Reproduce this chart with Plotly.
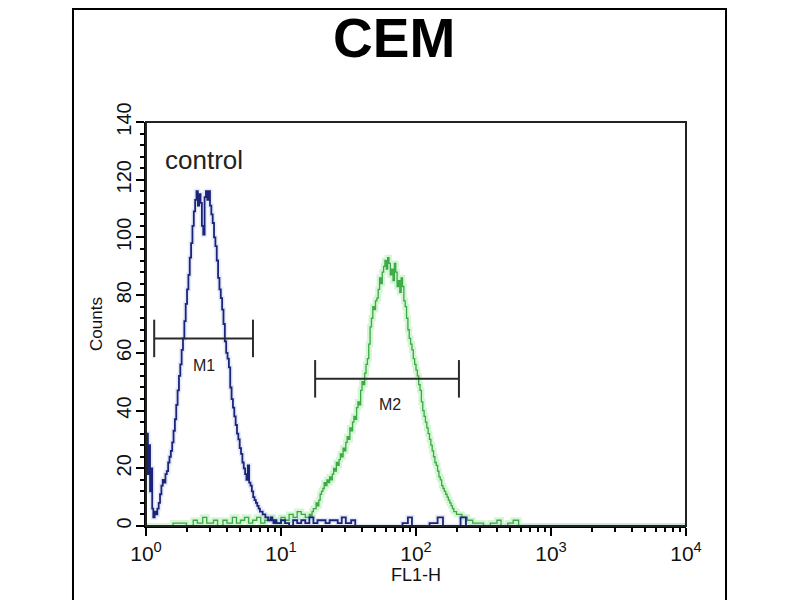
import numpy as np
import plotly.graph_objects as go

# ============================================================
# DATA
# ============================================================
title = "CEM"

# control histogram (blue), positions in log10(FL1-H)
blue_log_x = [
    0.0, 0.007, 0.014, 0.022, 0.03, 0.038, 0.046, 0.054, 0.064, 0.074,
    0.084, 0.094, 0.104, 0.114, 0.124, 0.134, 0.144, 0.154, 0.164, 0.174,
    0.184, 0.194, 0.204, 0.214, 0.224, 0.234, 0.244, 0.254, 0.264, 0.274,
    0.284, 0.294, 0.304, 0.314, 0.324, 0.334, 0.344, 0.354, 0.364, 0.374,
    0.384, 0.394, 0.404, 0.414, 0.424, 0.434, 0.444, 0.454, 0.464, 0.474,
    0.484, 0.494, 0.504, 0.514, 0.524, 0.534, 0.544, 0.554, 0.564, 0.574,
    0.584, 0.594, 0.604, 0.614, 0.624, 0.634, 0.644, 0.654, 0.664, 0.674,
    0.684, 0.694, 0.704, 0.714, 0.724, 0.734, 0.744, 0.754, 0.764, 0.774,
    0.784, 0.794, 0.804, 0.814, 0.824, 0.834, 0.844, 0.854, 0.864, 0.874,
    0.884, 0.894, 0.904, 0.914, 0.924, 0.934, 0.944, 0.954, 0.964, 0.974,
    1.0, 1.03, 1.06, 1.09, 1.12, 1.15, 1.18, 1.21, 1.24, 1.27,
    1.30, 1.33, 1.36, 1.39, 1.42, 1.45, 1.48, 1.52, 1.55, 1.6,
    1.7, 1.8, 1.9, 1.94, 1.97, 2.05, 2.1, 2.16, 2.2, 2.3,
    2.33, 2.37, 2.5, 3.0, 4.0,
]
blue_counts = [
    24, 32, 18, 28, 12, 20, 6, 3, 5, 4,
    6, 8, 11, 14, 16, 15, 18, 19, 22, 24,
    26, 29, 33, 37, 42, 47, 52, 56, 61, 65,
    71, 77, 82, 87, 93, 98, 104, 109, 113, 116,
    111, 115, 112, 104, 101, 114, 116, 113, 116, 111,
    108, 105, 100, 97, 92, 86, 82, 79, 75, 70,
    64, 60, 58, 55, 48, 44, 41, 38, 35, 32,
    30, 27, 25, 22, 20, 18, 16, 21, 15, 14,
    12, 10, 9, 8, 7, 6, 5, 5, 4, 4,
    3, 3, 2, 2, 3, 2, 1, 2, 1, 1,
    2, 1, 0, 2, 1, 2, 1, 3, 1, 2,
    2, 1, 2, 2, 1, 3, 1, 2, 0, 0,
    0, 0, 1, 3, 0, 0, 1, 3, 0, 0,
    3, 0, 0, 0, 0,
]

# stained histogram (green)
green_log_x = [
    0.0, 0.1, 0.2, 0.3, 0.35, 0.38, 0.42, 0.45, 0.5, 0.53,
    0.57, 0.6, 0.64, 0.67, 0.7, 0.73, 0.76, 0.79, 0.82, 0.85,
    0.88, 0.91, 0.94, 0.97, 1.0, 1.03, 1.06, 1.09, 1.12, 1.15,
    1.18, 1.20, 1.21, 1.22, 1.23, 1.24, 1.25, 1.26, 1.27, 1.28,
    1.29, 1.30, 1.31, 1.32, 1.33, 1.34, 1.35, 1.36, 1.37, 1.38,
    1.39, 1.40, 1.41, 1.42, 1.43, 1.44, 1.45, 1.46, 1.47, 1.48,
    1.49, 1.50, 1.51, 1.52, 1.53, 1.54, 1.55, 1.56, 1.57, 1.58,
    1.59, 1.60, 1.61, 1.62, 1.63, 1.64, 1.65, 1.66, 1.67, 1.68,
    1.69, 1.70, 1.71, 1.72, 1.73, 1.74, 1.75, 1.76, 1.77, 1.78,
    1.79, 1.80, 1.81, 1.82, 1.83, 1.84, 1.85, 1.86, 1.87, 1.88,
    1.89, 1.90, 1.91, 1.92, 1.93, 1.94, 1.95, 1.96, 1.97, 1.98,
    1.99, 2.00, 2.01, 2.02, 2.03, 2.04, 2.05, 2.06, 2.07, 2.08,
    2.09, 2.10, 2.11, 2.12, 2.13, 2.14, 2.15, 2.16, 2.17, 2.18,
    2.19, 2.20, 2.21, 2.22, 2.23, 2.24, 2.25, 2.26, 2.27, 2.28,
    2.29, 2.30, 2.32, 2.34, 2.36, 2.38, 2.40, 2.42, 2.45, 2.5,
    2.55, 2.6, 2.63, 2.68, 2.72, 2.76, 2.8, 3.0, 4.0,
]
green_counts = [
    0, 0, 1, 0, 2, 1, 3, 1, 2, 0,
    2, 1, 3, 1, 2, 3, 1, 2, 3, 1,
    2, 3, 2, 1, 3, 2, 4, 3, 5, 4,
    3, 3, 4, 3, 5, 6, 6, 8, 7, 9,
    11, 12, 13, 15, 14, 16, 15, 17, 16, 18,
    20, 19, 22, 21, 23, 25, 24, 27, 26, 29,
    31, 30, 34, 33, 36, 38, 37, 41, 43, 42,
    47, 50, 49, 53, 56, 58, 63, 69, 72, 76,
    75, 78, 79, 82, 86, 84, 88, 90, 92, 89,
    93, 91, 87, 89, 85, 91, 88, 83, 85, 81,
    86, 83, 78, 76, 72, 68, 65, 63, 61, 58,
    56, 54, 52, 49, 47, 43, 40, 38, 36, 34,
    32, 30, 28, 26, 24, 22, 21, 19, 17, 16,
    14, 13, 12, 11, 10, 9, 8, 7, 6, 5,
    5, 4, 4, 3, 3, 2, 2, 1, 1, 0,
    1, 2, 0, 1, 2, 0, 0, 0, 0,
]

# marker gates: name, left, right (FL1-H), bar height, label position
gate_names = ["M1", "M2"]
gate_left = [1.15, 17.9]
gate_right = [6.2, 208]
gate_level = [65, 51]
gate_label_y = [55.5, 42]
gate_label_x = [2.7, 64]

x_tickvals = [1, 10, 100, 1000, 10000]
x_ticktext = ["10<sup>0</sup>", "10<sup>1</sup>", "10<sup>2</sup>",
              "10<sup>3</sup>", "10<sup>4</sup>"]
x_minor = [m * d for d in x_tickvals[:-1] for m in range(2, 10)]

FONT = "Arial, Liberation Sans, sans-serif"

# ============================================================
# PLOT
# ============================================================
fig = go.Figure()

blue_x = 10 ** np.array(blue_log_x)
green_x = 10 ** np.array(green_log_x)

# soft halos under the lines (jpeg-like glow)
fig.add_trace(go.Scatter(x=green_x, y=green_counts, mode="lines", line_shape="hv",
                         line=dict(color="rgba(160,235,160,0.45)", width=6),
                         hoverinfo="skip", showlegend=False))
fig.add_trace(go.Scatter(x=blue_x, y=blue_counts, mode="lines", line_shape="hv",
                         line=dict(color="rgba(170,185,240,0.3)", width=5),
                         hoverinfo="skip", showlegend=False))
fig.add_trace(go.Scatter(x=green_x, y=green_counts, mode="lines", line_shape="hv",
                         line=dict(color="#3aa845", width=1.3), name="CEM"))
fig.add_trace(go.Scatter(x=blue_x, y=blue_counts, mode="lines", line_shape="hv",
                         line=dict(color="#1c2478", width=1.8), name="control"))

# gate bars
for i, name in enumerate(gate_names):
    h = 6.5
    fig.add_trace(go.Scatter(
        x=[gate_left[i], gate_right[i], None, gate_left[i], gate_left[i], None,
           gate_right[i], gate_right[i]],
        y=[gate_level[i], gate_level[i], None, gate_level[i] - h, gate_level[i] + h, None,
           gate_level[i] - h, gate_level[i] + h],
        mode="lines", line=dict(color="#2a2a2a", width=2),
        hoverinfo="skip", showlegend=False))
    fig.add_annotation(x=np.log10(gate_label_x[i]), y=gate_label_y[i], text=name,
                       showarrow=False, font=dict(family=FONT, size=16, color="#222"))

fig.add_annotation(x=np.log10(1.33), y=127, text="control", xanchor="left",
                   showarrow=False, font=dict(family=FONT, size=26, color="#222"))

fig.add_annotation(x=0.459, y=1.29, xref="paper", yref="paper", text="<b>" + title + "</b>",
                   showarrow=False, font=dict(family=FONT, size=55, color="black"))

# outer frame and plot box
fig.add_shape(type="rect", xref="paper", yref="paper",
              x0=-0.1352, x1=1.0741, y0=-0.35, y1=1.2795,
              line=dict(color="black", width=2))
fig.add_shape(type="rect", xref="paper", yref="paper", x0=0, x1=1, y0=0, y1=1,
              line=dict(color="#222", width=2))

fig.update_xaxes(
    type="log", range=[0, 4],
    tickvals=x_tickvals, ticktext=x_ticktext,
    ticks="outside", ticklen=8, tickwidth=1.5, tickcolor="black",
    minor=dict(tickvals=x_minor, ticks="outside", ticklen=4, tickwidth=1.5,
               tickcolor="black"),
    showline=True, linecolor="black", linewidth=2, showgrid=False, zeroline=False,
    tickfont=dict(family=FONT, size=21, color="#111"),
    title=dict(text="FL1-H", font=dict(family=FONT, size=18, color="#111"), standoff=2),
)
fig.update_yaxes(
    range=[0, 140], dtick=20, tickangle=-90,
    ticks="outside", ticklen=8, tickwidth=1.5, tickcolor="black",
    minor=dict(dtick=4, ticks="outside", ticklen=4, tickwidth=1.5, tickcolor="black"),
    showline=True, linecolor="black", linewidth=2, showgrid=False, zeroline=False,
    tickfont=dict(family=FONT, size=20, color="#111"),
    ticklabelstandoff=-3,
    title=dict(text="Counts", font=dict(family=FONT, size=17, color="#111"), standoff=6),
)

# the page body adds ~8px offset, so margins are shifted to compensate
fig.update_layout(
    width=800, height=600,
    margin=dict(l=138, r=122, t=114, b=82),
    paper_bgcolor="white", plot_bgcolor="white",
    showlegend=False,
)

fig.write_html("out.html")
